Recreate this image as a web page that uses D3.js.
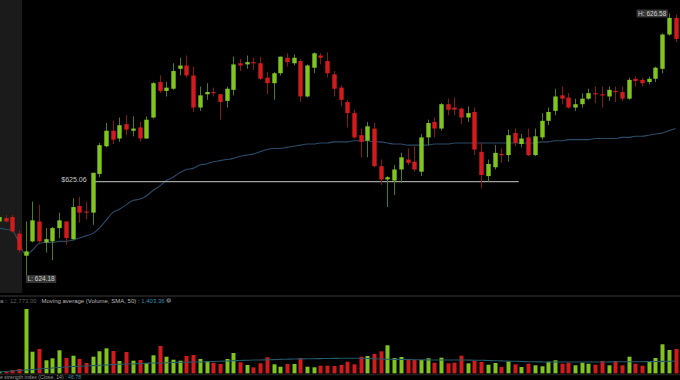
<!DOCTYPE html>
<html><head><meta charset="utf-8">
<script src="https://cdn.jsdelivr.net/npm/d3@7"></script>
<style>html,body{margin:0;padding:0;background:#000;}svg{display:block;}</style>
</head><body>
<svg id="chart" width="680" height="380"></svg>
<script>
// ---- data (candle index -1 .. 100) ----
const firstIndex = -1;
const open = [
 624.70,624.73,624.74,624.59,624.39,624.52,624.70,624.51,624.52,624.64,
 624.70,624.54,624.84,624.79,624.78,625.13,625.38,625.52,625.45,625.58,
 625.52,625.55,625.45,625.64,625.96,625.88,625.90,626.08,626.11,626.02,
 625.73,625.85,625.87,625.85,625.79,625.89,626.13,626.12,626.14,626.13,
 626.00,625.95,626.04,626.18,626.13,626.15,625.83,626.09,626.20,626.15,
 626.03,625.91,625.78,625.68,625.48,625.43,625.54,625.20,625.08,625.07,
 625.17,625.26,625.24,625.15,625.46,625.60,625.54,625.76,625.73,625.72,
 625.64,625.69,625.33,625.11,625.19,625.31,625.30,625.50,625.40,625.46,
 625.30,625.46,625.61,625.70,625.84,625.82,625.73,625.76,625.81,625.86,
 625.85,625.83,625.88,625.87,625.81,625.99,625.98,625.96,625.99,626.08,
 626.39,626.54];
const high = [
 624.77,624.76,624.76,624.62,624.70,624.88,624.85,624.64,624.65,624.78,
 624.70,624.91,624.92,624.88,625.14,625.41,625.59,625.61,625.64,625.66,
 625.65,625.60,625.65,625.96,626.02,625.96,626.13,626.18,626.20,626.10,
 625.92,625.95,625.91,625.85,625.92,626.19,626.17,626.20,626.18,626.19,
 626.05,626.05,626.19,626.22,626.21,626.17,626.12,626.23,626.22,626.23,
 626.06,625.93,625.80,625.71,625.54,625.60,625.59,625.26,625.11,625.21,
 625.32,625.36,625.38,625.49,625.62,625.64,625.77,625.81,625.82,625.73,
 625.74,625.73,625.41,625.26,625.39,625.36,625.53,625.54,625.49,625.54,
 625.54,625.68,625.73,625.90,625.92,625.86,625.81,625.86,625.90,625.92,
 625.92,625.92,625.92,625.92,626.00,626.01,626.00,626.01,626.10,626.40,
 626.58,626.57];
const low = [
 624.68,624.69,624.60,624.42,624.18,624.51,624.51,624.42,624.35,624.55,
 624.49,624.53,624.69,624.72,624.67,625.10,625.37,625.40,625.42,625.48,
 625.47,625.42,625.45,625.63,625.86,625.83,625.89,626.02,626.00,625.69,
 625.70,625.80,625.83,625.62,625.73,625.84,626.06,626.08,626.07,625.98,
 625.85,625.80,626.02,626.10,626.11,625.78,625.82,626.04,626.12,626.00,
 625.83,625.74,625.55,625.45,625.28,625.28,625.19,625.03,624.83,624.94,
 625.05,625.21,625.15,625.11,625.39,625.46,625.52,625.66,625.66,625.58,
 625.60,625.30,625.00,625.06,625.17,625.23,625.24,625.38,625.37,625.29,
 625.29,625.44,625.57,625.66,625.76,625.72,625.70,625.73,625.80,625.77,
 625.73,625.79,625.78,625.79,625.80,625.92,625.92,625.94,625.96,626.04,
 626.38,626.32];
const close = [
 624.74,624.70,624.61,624.44,624.43,624.71,624.52,624.54,624.64,624.71,
 624.55,624.83,624.78,624.78,625.14,625.39,625.52,625.44,625.57,625.53,
 625.54,625.45,625.62,625.95,625.88,625.91,626.06,626.11,626.02,625.73,
 625.84,625.87,625.86,625.78,625.90,626.12,626.11,626.14,626.13,625.99,
 625.95,626.04,626.19,626.14,626.18,625.83,626.11,626.22,626.18,626.04,
 625.90,625.80,625.68,625.46,625.42,625.56,625.20,625.08,625.10,625.17,
 625.28,625.23,625.17,625.46,625.59,625.54,625.76,625.71,625.71,625.64,
 625.68,625.35,625.12,625.22,625.32,625.30,625.48,625.41,625.45,625.30,
 625.47,625.61,625.69,625.83,625.81,625.73,625.76,625.81,625.86,625.85,
 625.84,625.89,625.87,625.81,625.98,625.97,625.95,625.99,626.09,626.39,
 626.54,626.35];
const priceMA = [
 624.64,624.63,624.62,624.51,624.40,624.44,624.50,624.51,624.51,624.52,
 624.52,624.53,624.55,624.57,624.59,624.64,624.71,624.78,624.81,624.85,
 624.89,624.90,624.93,624.98,625.02,625.07,625.10,625.14,625.17,625.18,
 625.21,625.22,625.24,625.25,625.26,625.27,625.29,625.30,625.31,625.33,
 625.35,625.36,625.36,625.37,625.38,625.39,625.40,625.40,625.41,625.41,
 625.42,625.42,625.42,625.43,625.43,625.43,625.42,625.42,625.41,625.40,
 625.40,625.39,625.39,625.39,625.39,625.40,625.40,625.40,625.41,625.41,
 625.41,625.41,625.41,625.41,625.41,625.41,625.41,625.41,625.41,625.41,
 625.41,625.42,625.42,625.43,625.43,625.44,625.44,625.44,625.44,625.45,
 625.45,625.45,625.45,625.46,625.46,625.47,625.47,625.48,625.49,625.50,
 625.52,625.54];
const volume = [
 350,300,650,850,12773,4291,4827,2582,2980,4569,
 3039,3496,2841,2046,3298,4370,4966,4430,2443,4231,
 2503,2642,2046,3576,5423,3298,2702,2503,3437,3635,
 2841,2443,2106,1847,2841,4033,2185,1649,1192,1987,
 3178,1788,1311,1847,1847,3039,1311,1192,1510,1510,
 1450,1649,2304,1788,3298,3437,3834,4370,5562,3039,
 3238,2642,2642,2642,2980,2106,3099,1987,2106,3496,
 1987,2503,2245,1708,2046,1251,2384,1788,1251,1907,
 1589,1391,2304,2582,1907,2106,1589,2106,1907,1708,
 2443,1589,2443,1589,3298,1907,1510,2245,3039,5761,
 4629,4827];
const volumeMA = [
 260,360,460,560,660,750,850,950,1050,1150,
 1250,1350,1390,1450,1530,1590,1650,1730,1790,1850,
 1850,1930,1990,2050,2050,2110,2150,2190,2210,2240,
 2240,2300,2340,2380,2440,2480,2540,2580,2640,2640,
 2680,2720,2760,2800,2840,2860,2880,2900,2920,2940,
 2960,2980,3000,3000,2980,2940,2880,2840,2800,2760,
 2740,2720,2700,2680,2660,2640,2640,2640,2640,2640,
 2620,2600,2580,2540,2500,2460,2420,2380,2340,2300,
 2280,2260,2240,2240,2240,2240,2240,2240,2240,2240,
 2240,2260,2280,2280,2280,2300,2300,2320,2340,2360,
 2380,2440];
const priceHigh = 626.58, priceLow = 624.18;
const highLabel = "H: 626.58", lowLabel = "L: 624.18";
const levelPrice = 625.06, levelLabel = "$625.06";
const levelFrom = 13, levelTo = 76.6;   // candle indices the level line spans
const shadedUntil = 2.5;                 // shaded session before this candle index
const volumeLegend = ["a : ", "12,773.00", "Moving average (Volume, SMA, 50) : ", "1,403.36"];
const rsiLegend = ["e strength index (Close, 14) : ", "46.78"];

// ---- build ----
const data = open.map((o, k) => ({i: k + firstIndex, o, h: high[k], l: low[k], c: close[k],
  v: volume[k], ma: priceMA[k], vma: volumeMA[k]}));

const svg = d3.select("#chart");
const W = 680;
const x = d3.scaleLinear().domain([0, 100]).range([5.5, 675.5]);
const y = d3.scaleLinear().domain([priceLow, priceHigh]).range([279, 13.5]);
const vy = d3.scaleLinear().domain([0, 12773]).range([373.3, 309]);

const GREEN = "#80c41f", RED = "#d11b1d", GWICK = "#4c7d16", RWICK = "#861818";
const up = d => d.c >= d.o;

svg.append("rect").attr("width", W).attr("height", 380).attr("fill", "#000");
// shaded pre-session panel
svg.append("rect").attr("x", 0).attr("y", 0).attr("width", x(shadedUntil)).attr("height", 293).attr("fill", "#1b1b1b");

// pane separators
svg.append("rect").attr("x", 0).attr("y", 295).attr("width", W).attr("height", 2).attr("fill", "#1e1e1e");
svg.append("rect").attr("x", 0).attr("y", 373.5).attr("width", W).attr("height", 1.8).attr("fill", "#1c1c1c");

// price moving average
svg.append("path").datum(data)
  .attr("d", d3.line().x(d => x(d.i)).y(d => y(d.ma)).curve(d3.curveMonotoneX))
  .attr("fill", "none").attr("stroke", "#2c4b69").attr("stroke-width", 1.1);

// level line
svg.append("line").attr("x1", x(levelFrom)).attr("x2", x(levelTo))
  .attr("y1", y(levelPrice)).attr("y2", y(levelPrice))
  .attr("stroke", "#a0a0a0").attr("stroke-width", 1.4);
svg.append("text").attr("x", x(levelFrom) - 6).attr("y", y(levelPrice) + 0.8)
  .attr("text-anchor", "end").attr("font-family", "Liberation Sans, Arial, sans-serif")
  .attr("font-size", 7).attr("fill", "#c8c8c8").text(levelLabel);

// candles
const bw = 4.4;
const cg = svg.append("g");
cg.selectAll("line.w").data(data).join("line").attr("class", "w")
  .attr("x1", d => Math.round(x(d.i)) + 0.5).attr("x2", d => Math.round(x(d.i)) + 0.5)
  .attr("y1", d => y(d.h)).attr("y2", d => y(d.l))
  .attr("stroke", d => up(d) ? GWICK : RWICK).attr("stroke-width", 1);
cg.selectAll("rect.b").data(data).join("rect").attr("class", "b")
  .attr("x", d => Math.round(x(d.i)) + 0.5 - bw / 2).attr("width", bw)
  .attr("y", d => y(Math.max(d.o, d.c)))
  .attr("height", d => Math.max(1.2, Math.abs(y(d.o) - y(d.c))))
  .attr("fill", d => up(d) ? GREEN : RED);

// H / L labels
function tag(txt, px, py, anchor) {
  const g = svg.append("g");
  const t = g.append("text").attr("font-family", "Liberation Sans, Arial, sans-serif")
    .attr("font-size", 6.5).attr("fill", "#d0d0d0").attr("y", py + 2.3).text(txt);
  const w = t.node().getComputedTextLength();
  const bx = anchor === "end" ? px - w - 3 : px;
  g.insert("rect", "text").attr("x", bx).attr("y", py - 4).attr("width", w + 3).attr("height", 8).attr("fill", "#353535");
  t.attr("x", bx + 1.5);
}
const hiD = data.find(d => d.h === priceHigh), loD = data.find(d => d.l === priceLow);
tag(highLabel, x(hiD.i) - 1, y(priceHigh), "end");
tag(lowLabel, x(loD.i) + 0.5, y(priceLow), "start");

// volume bars
svg.append("g").selectAll("rect").data(data).join("rect")
  .attr("x", d => Math.round(x(d.i)) + 0.5 - 2).attr("width", 4)
  .attr("y", d => vy(d.v)).attr("height", d => vy(0) - vy(d.v))
  .attr("fill", d => up(d) ? GREEN : RED);
svg.append("path").datum(data)
  .attr("d", d3.line().x(d => x(d.i)).y(d => vy(d.vma)).curve(d3.curveMonotoneX))
  .attr("fill", "none").attr("stroke", "#22596b").attr("stroke-width", 1.1);

// legends
const lf = "Liberation Sans, Arial, sans-serif";
const lg = svg.append("text").attr("y", 302.8).attr("font-family", lf).attr("font-size", 6);
lg.append("tspan").attr("x", 0).attr("fill", "#9a9a9a").text(volumeLegend[0]);
lg.append("tspan").attr("x", 10).attr("fill", "#5e5e5e").text(volumeLegend[1]);
lg.append("tspan").attr("x", 41.5).attr("fill", "#b8b8b8").text(volumeLegend[2]);
lg.append("tspan").attr("fill", "#3b8db3").text(volumeLegend[3]);
const lgEnd = lg.node().getBBox();
svg.append("circle").attr("cx", lgEnd.x + lgEnd.width + 3.5).attr("cy", 300.5).attr("r", 2.3)
  .attr("fill", "#6a6a6a");
svg.append("text").attr("x", lgEnd.x + lgEnd.width + 3.5).attr("y", 302.3).attr("text-anchor", "middle")
  .attr("font-family", lf).attr("font-size", 4.5).attr("fill", "#111").text("×");

const rg = svg.append("text").attr("y", 378.8).attr("font-family", lf).attr("font-size", 5.2);
rg.append("tspan").attr("x", 0).attr("fill", "#9a9a9a").text(rsiLegend[0]);
rg.append("tspan").attr("fill", "#3b8db3").text(rsiLegend[1]);
</script>
</body></html>
